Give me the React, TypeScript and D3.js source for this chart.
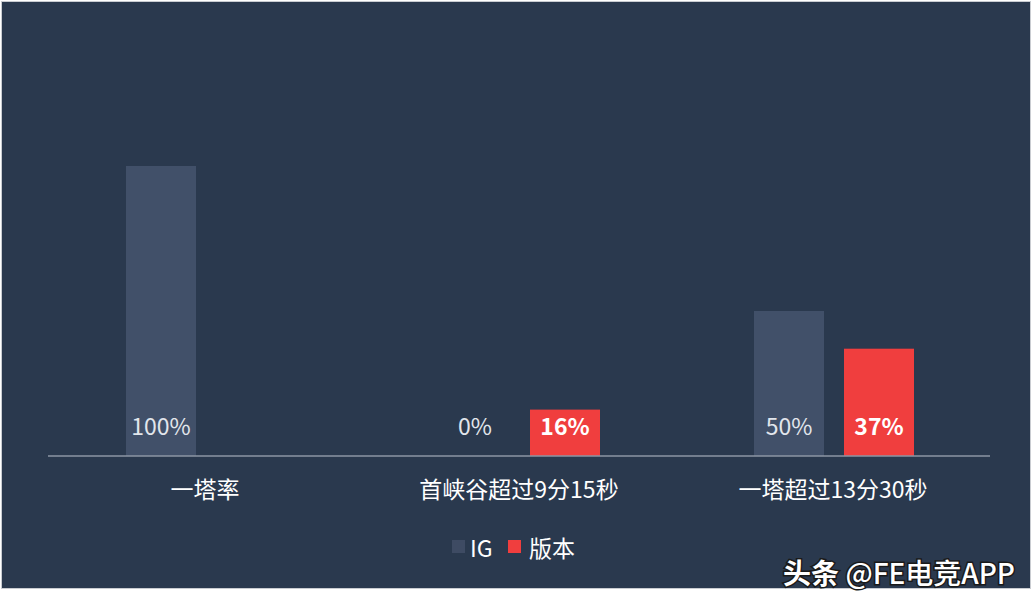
import { useMemo } from "react";
import * as d3 from "d3";

const categories = ["一塔率", "首峡谷超过9分15秒", "一塔超过13分30秒"];
const seriesNames = ["IG", "版本"];
const igValues: (number | null)[] = [100, 0, 50];
const versionValues: (number | null)[] = [null, 16, 37];

const COLORS = ["#415069", "#f03e3e"];
const LABEL_COLORS = ["#e2e6ec", "#ffffff"];
const FONT = "'Noto Sans CJK SC', 'Noto Sans', sans-serif";

export default function App() {
  const width = 1032;
  const height = 606;
  const plot = { left: 48, right: 990, top: 166, bottom: 456 };

  const x = useMemo(
    () => d3.scaleBand<string>().domain(categories).range([plot.left, plot.right]),
    [],
  );
  // two 70px bars with a 20px gap per group
  const sub = useMemo(
    () => d3.scaleBand<string>().domain(seriesNames).range([0, 160]).paddingInner(20 / 90),
    [],
  );
  const y = useMemo(
    () => d3.scaleLinear().domain([0, 100]).range([plot.bottom, plot.top]),
    [],
  );

  const series = [igValues, versionValues];

  return (
    <svg
      width={width}
      height={height}
      style={{ position: "fixed", left: 0, top: 0, fontFamily: FONT }}
    >
      <rect x={0} y={0} width={width} height={height} fill="#ffffff" />
      <rect x={1.5} y={1.5} width={1029} height={587} fill="#2a394e" stroke="#c9ccd1" strokeWidth={1} />

      {/* Bars and value labels */}
      {series.map((vals, si) =>
        vals.map((v, ci) => {
          if (v === null) return null;
          const cx = (x(categories[ci]) ?? 0) + x.bandwidth() / 2 - 79;
          const bx = cx + (sub(seriesNames[si]) ?? 0);
          const bw = sub.bandwidth();
          return (
            <g key={`${si}-${ci}`}>
              {v > 0 && (
                <rect x={bx} y={y(v)} width={bw} height={y(0) - y(v)} fill={COLORS[si]} />
              )}
              <text
                x={bx + bw / 2}
                y={425}
                fill={LABEL_COLORS[si]}
                fontSize={23}
                fontWeight={si === 1 ? 700 : 400}
                textAnchor="middle"
                dominantBaseline="central"
              >
                {v}%
              </text>
            </g>
          );
        }),
      )}

      {/* Axis */}
      <line x1={plot.left} x2={plot.right} y1={plot.bottom} y2={plot.bottom} stroke="#8c96a4" strokeWidth={1.5} />
      {categories.map((c) => (
        <text
          key={c}
          x={(x(c) ?? 0) + x.bandwidth() / 2}
          y={488}
          fill="#ffffff"
          fontSize={23}
          textAnchor="middle"
          dominantBaseline="central"
        >
          {c}
        </text>
      ))}

      {/* Legend */}
      <g transform="translate(452,547)">
        <rect x={0} y={-7} width={13} height={13} fill="#3e4b63" />
        <text x={18} y={0} fill="#ffffff" fontSize={23} dominantBaseline="central">IG</text>
        <rect x={56} y={-7} width={13} height={13} fill="#f03e3e" />
        <text x={77} y={0} fill="#ffffff" fontSize={23} dominantBaseline="central">版本</text>
      </g>

      {/* Watermark */}
      <text
        x={1015}
        y={572}
        fill="#ffffff"
        fontSize={28}
        textAnchor="end"
        dominantBaseline="central"
        style={{ paintOrder: "stroke" }}
        stroke="#1a1a1a"
        strokeWidth={3}
      >
        <tspan fontWeight={700}>头条 </tspan>
        <tspan fontWeight={500}>@FE电竞APP</tspan>
      </text>
    </svg>
  );
}
